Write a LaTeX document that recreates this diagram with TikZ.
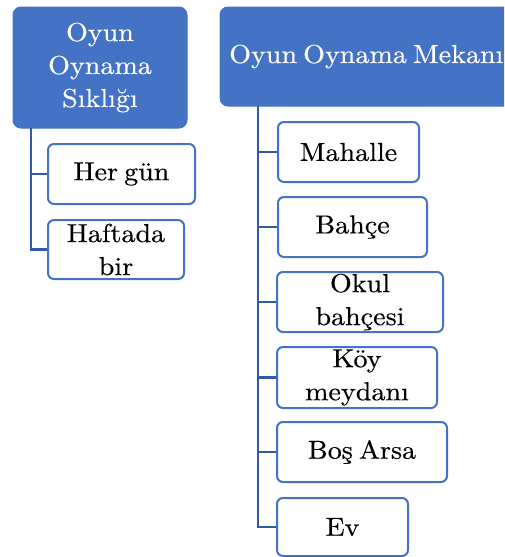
\documentclass[tikz,border=0pt]{standalone}
\usepackage{fontspec}
\setmainfont{lmroman10-regular.otf}[FakeStretch=1.08,WordSpace=0.65,FakeBold=0.4]
\definecolor{hdr}{HTML}{4472C4}
\definecolor{lnk}{HTML}{3459A6}
\begin{document}
\begin{tikzpicture}[x=1pt,y=-1pt,
  font=\fontsize{26}{33}\selectfont,
  head/.style={draw=hdr,fill=hdr,line width=1pt,rounded corners=8pt,text=white,align=center,inner sep=0pt},
  item/.style={draw=hdr,fill=white,line width=2pt,rounded corners=6pt,align=center,inner sep=0pt,text=black},
  link/.style={draw=lnk,line width=2.8pt}]
\useasboundingbox (0,0) rectangle (504,557);
\clip (0,0) rectangle (504,557);
% left group
\node[head,minimum width=174pt,minimum height=121pt] (hL) at (100,67.5) {Oyun\\Oynama\\Sıklığı};
\node[item,minimum width=147pt,minimum height=60pt] (her) at (121.5,174) {Her gün};
\node[item,minimum width=136pt,minimum height=59pt] (haf) at (116,249.5) {Haftada\\bir};
\coordinate (tL) at (31,128);
\draw[link] (tL) |- (her.west);
\draw[link] (tL) |- (haf.west);
% right group
\node[head,minimum width=320pt,minimum height=99pt] (hR) at (380,56.5) {};
\node[text=white,inner sep=0pt,anchor=base west] (hRt) at (229,63) {Oyun Oynama Mekanı};
\node[item,minimum width=141pt,minimum height=60pt] (mah) at (348.5,152) {Mahalle};
\node[item,minimum width=149pt,minimum height=60pt] (bah) at (352.5,227) {Bahçe};
\node[item,minimum width=166pt,minimum height=60pt] (okul) at (360,302) {Okul\\bahçesi};
\node[item,minimum width=160pt,minimum height=61pt] (koy) at (357,377.5) {Köy\\meydanı};
\node[item,minimum width=170pt,minimum height=60pt] (bos) at (362,452) {Boş Arsa};
\node[item,minimum width=131pt,minimum height=58pt] (ev) at (342.5,527) {Ev};
\coordinate (tR) at (258,106);
\foreach \n in {mah,bah,okul,koy,bos,ev}{\draw[link] (tR) |- (\n.west);}
\end{tikzpicture}
\end{document}
